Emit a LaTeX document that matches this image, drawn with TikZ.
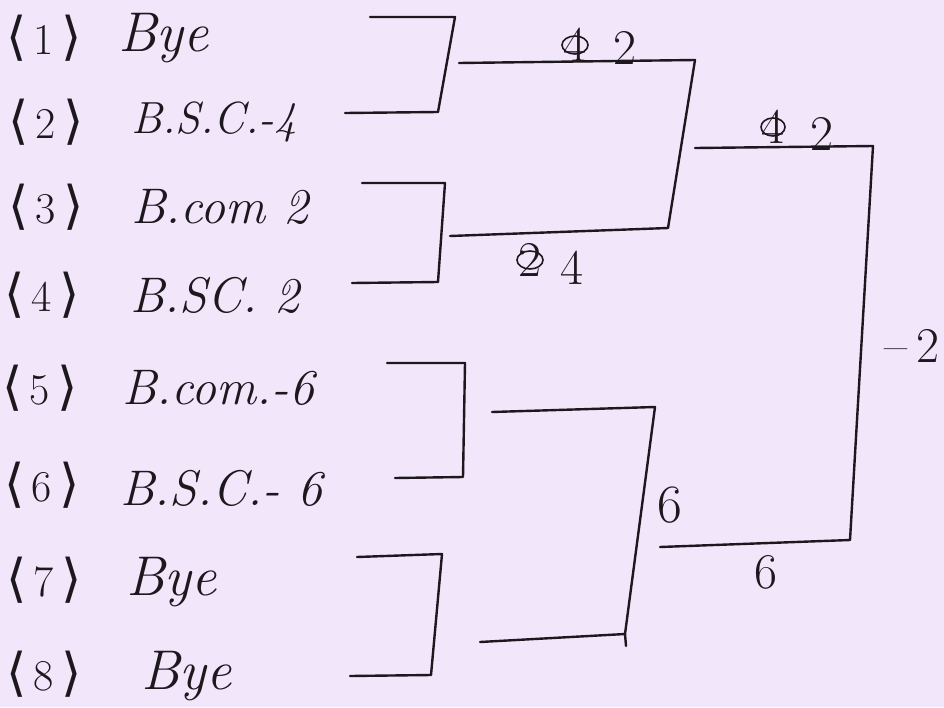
\documentclass[tikz,border=0pt]{standalone}
\usepackage{fontspec}
\newfontfamily\brk{DejaVu Sans}
\newcommand{\sd}[1]{{\brk\fontsize{52}{56}\selectfont ⟨}\,#1\,{\brk\fontsize{52}{56}\selectfont ⟩}}
\definecolor{paper}{RGB}{241,230,250}
\definecolor{ink}{RGB}{28,24,30}
\begin{document}
\begin{tikzpicture}[x=1pt,y=-1pt,
  bline/.style={ink,line width=2.4pt,line cap=round,line join=round},
  team/.style={anchor=west,inner sep=0pt,font=\fontsize{50}{54}\selectfont\itshape,text=ink},
  bye/.style={team,font=\fontsize{56}{60}\selectfont\itshape},
  seed/.style={anchor=west,inner sep=0pt,font=\fontsize{44}{50}\selectfont,text=ink},
  score/.style={inner sep=0pt,font=\fontsize{50}{54}\selectfont,text=ink},
  scrib/.style={ink,line width=1.6pt}]
\fill[paper] (0,0) rectangle (944,707);
\useasboundingbox (0,0) rectangle (944,707);
% seeds and teams
\node[seed] (s1) at (6,38)  {\sd{1}};  \node[bye] (t1) at (118,38)  {Bye};
\node[seed] (s2) at (8,122) {\sd{2}}; \node[team,font=\fontsize{45}{50}\selectfont\itshape] (t2) at (131,122) {B.S.C.-4};
\node[seed] (s3) at (8,207) {\sd{3}}; \node[team] (t3) at (131,207) {B.com 2};
\node[seed] (s4) at (4,295)  {\sd{4}}; \node[team] (t4) at (130,295) {B.SC. 2};
\node[seed] (s5) at (2,388)  {\sd{5}}; \node[team] (t5) at (122,388) {B.com.-6};
\node[seed] (s6) at (4,485)  {\sd{6}}; \node[team] (t6) at (120,488) {B.S.C.- 6};
\node[seed] (s7) at (6,580)  {\sd{7}}; \node[bye] (t7) at (126,582) {Bye};
\node[seed] (s8) at (6,674)  {\sd{8}}; \node[bye] (t8) at (141,676) {Bye};
% round 1 corners
\coordinate (a1) at (370,17);  \coordinate (a2) at (455,17);
\coordinate (a3) at (438,112); \coordinate (a4) at (345,113);
\coordinate (b1) at (362,183); \coordinate (b2) at (445,183);
\coordinate (b3) at (438,282); \coordinate (b4) at (352,283);
\coordinate (c1) at (387,363); \coordinate (c2) at (465,363);
\coordinate (c3) at (463,477); \coordinate (c4) at (395,478);
\coordinate (d1) at (357,557); \coordinate (d2) at (442,554);
\coordinate (d3) at (431,675); \coordinate (d4) at (350,676);
\draw[bline] (a1) -- (a2) -- (a3) -- (a4);
\draw[bline] (b1) -- (b2) -- (b3) -- (b4);
\draw[bline] (c1) -- (c2) -- (c3) -- (c4);
\draw[bline] (d1) -- (d2) -- (d3) -- (d4);
% round 2
\coordinate (e1) at (459,63);  \coordinate (e2) at (695,60);
\coordinate (e3) at (668,228); \coordinate (e4) at (450,236);
\coordinate (f1) at (492,412); \coordinate (f2) at (655,407);
\coordinate (f3) at (625,634); \coordinate (f4) at (480,642);
\coordinate (f5) at (626,646);
\draw[bline] (e1) -- (e2) -- (e3) -- (e4);
\draw[bline] (f1) -- (f2) -- (f3) -- (f4);
\draw[bline] (f3) -- (f5);
% final
\coordinate (g1) at (695,148); \coordinate (g2) at (873,146);
\coordinate (g3) at (850,540); \coordinate (g4) at (660,547);
\draw[bline] (g1) -- (g2) -- (g3) -- (g4);
% scores
\node[score] (x1) at (575,45) {4};
\draw[scrib] (x1.center) ellipse [x radius=13pt, y radius=9pt];
\node[score] (w1) at (625,48) {2};
\node[score] (x2) at (773,127) {4};
\draw[scrib] (x2.center) ellipse [x radius=12pt, y radius=9pt];
\node[score] (w2) at (822,134) {2};
\node[score] (x3) at (530,260) {2};
\draw[scrib] (x3.center) ellipse [x radius=13pt, y radius=9pt];
\node[score] (w3) at (572,268) {4};
\node[score,font=\fontsize{54}{58}\selectfont] (w4) at (670,505) {6};
\node[score] (w5) at (766,572) {6};
\node[score] (w6) at (912,346) {–\,2};
\end{tikzpicture}
\end{document}
